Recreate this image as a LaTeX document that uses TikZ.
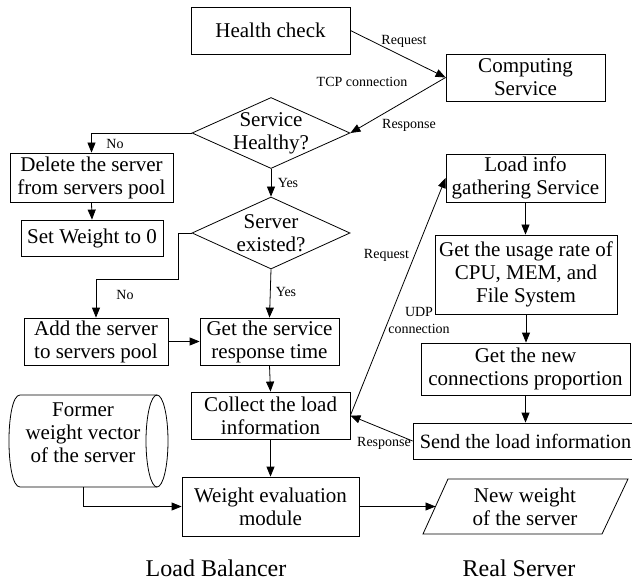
\documentclass[tikz,border=0pt]{standalone}
\usepackage{fontspec}
\setmainfont{Liberation Serif}
\usetikzlibrary{arrows.meta,shapes.geometric}

\tikzset{
  box/.style={draw, line width=0.8pt, inner sep=0pt, align=center,
    font=\fontsize{21}{23}\selectfont},
  decision/.style={diamond, draw, line width=0.8pt, inner sep=0pt},
  txt/.style={inner sep=0pt, align=center, font=\fontsize{21}{23}\selectfont},
  lbl/.style={inner sep=0pt, align=center, font=\fontsize{14}{16}\selectfont},
  title/.style={inner sep=0pt, font=\fontsize{24}{26}\selectfont},
  flow/.style={line width=0.8pt, -{Triangle[length=10pt,width=8pt]}},
  plain/.style={line width=0.8pt}
}

\begin{document}
\begin{tikzpicture}[x=1pt, y=-1pt]
\path[use as bounding box, clip] (0,0) rectangle (632,580);

% ---- load balancer column ----
\node[box, minimum width=159pt, minimum height=47pt] (hc) at (270.5,30.5) {Health check};
\node[decision, minimum width=158pt, minimum height=71pt] (d1) at (271,133) {};
\node[txt] at (d1) {Service\\Healthy?};
\node[box, minimum width=163pt, minimum height=49pt] (del) at (91.5,177.5) {Delete the server\\from servers pool};
\node[box, minimum width=142pt, minimum height=36pt] (sw0) at (92,238) {Set Weight to 0};
\node[decision, minimum width=158pt, minimum height=72pt] (d2) at (271,233) {};
\node[txt] at (d2) {Server\\existed?};
\node[box, minimum width=144pt, minimum height=47pt] (add) at (96,341.5) {Add the server\\to servers pool};
\node[box, minimum width=139pt, minimum height=47pt] (gst) at (269.5,341.5) {Get the service\\response time};
\node[box, minimum width=159pt, minimum height=47pt] (col) at (270.5,415.5) {Collect the load\\information};
\node[box, minimum width=177pt, minimum height=59pt] (we) at (270.5,506.5) {Weight evaluation\\module};

% stored former weights (horizontal drum)
\draw[plain] (20,395) -- (157,395) (157,487) -- (20,487)
  .. controls (5.3,487) and (5.3,395) .. (20,395);
\draw[plain] (157,441) ellipse [x radius=11, y radius=46];
\node[txt] (fw) at (83,433) {Former\\weight vector\\of the server};
\coordinate (fwb) at (83,487);

% new weight output (parallelogram)
\draw[plain] (448,479) -- (628,479) -- (602,534) -- (423,534) -- cycle;
\node[txt] (nw) at (525,507) {New weight\\of the server};
\coordinate (nwl) at (435.5,506.5);

% ---- real server column ----
\node[box, minimum width=159pt, minimum height=47pt] (cs) at (525.5,77.5) {Computing\\Service};
\node[box, minimum width=159pt, minimum height=48pt] (lig) at (525.5,178) {Load info\\gathering Service};
\node[box, minimum width=182pt, minimum height=79pt] (gur) at (526,274.5) {Get the usage rate of\\CPU, MEM, and\\File System};
\node[box, minimum width=209pt, minimum height=52pt] (gnc) at (525.5,369) {Get the new\\connections proportion};
\node[box, minimum width=229pt, minimum height=36pt, font=\fontsize{20.3}{23}\selectfont] (sli) at (527.5,441) {\hspace*{-4pt}Send the load information};

% ---- connectors ----
\draw[flow] (hc.east) -- (cs.west);
\draw[flow] (cs.west) -- (d1.east);
\draw[flow] (d1.west) -| (del.north);
\draw[flow] (del.south) -- (sw0.north);
\draw[flow] (d1.south) -- (d2.north);
\draw[flow] (d2.west) -- ++(-13,0) -- ++(0,46) -| (add.north);
\draw[flow] (d2.south) -- (gst.north);
\draw[flow] (add.east) -- (gst.west);
\draw[flow] (gst.south) -- (col.north);
\draw[flow] (col.south) -- (we.north);
\draw[flow] (fwb) |- (we.west);
\draw[flow] (we.east) -- (nwl);

\draw[flow] (col.east) -- (lig.west);
\draw[flow] (sli.west) -- (col.east);
\draw[flow] (lig.south) -- (lig.south |- gur.north);
\draw[flow] (gur.south) -- (gur.south |- gnc.north);
\draw[flow] (gnc.south) -- (gnc.south |- sli.north);

% ---- connector labels ----
\node[lbl] (l1) at (404,41) {Request};
\node[lbl] (l2) at (362,82) {TCP connection};
\node[lbl] (l3) at (409,125) {Response};
\node[lbl] (l4) at (115,144) {No};
\node[lbl] (l5) at (288,183) {Yes};
\node[lbl] (l6) at (125,295) {No};
\node[lbl] (l7) at (286,292) {Yes};
\node[lbl] (l8) at (386.5,255) {Request};
\node[lbl] (l9) at (419,312) {UDP};
\node[lbl] (l10) at (419,329) {connection};
\node[lbl] (l11) at (384,443) {Response};

% ---- column titles ----
\node[title] (tlb) at (216,568) {Load Balancer};
\node[title] (trs) at (519,568) {Real Server};
\end{tikzpicture}
\end{document}
